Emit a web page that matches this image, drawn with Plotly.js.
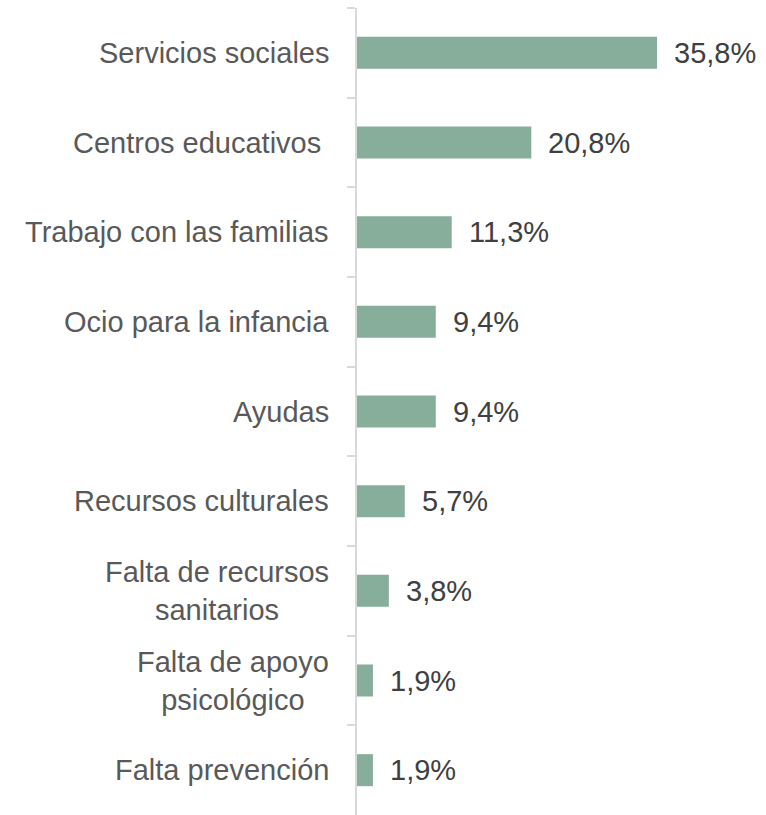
<!DOCTYPE html>
<html>
<head>
<meta charset="utf-8">
<script src="https://cdn.plot.ly/plotly-3.0.1.min.js"></script>
<style>html,body{margin:0;padding:0;background:#fff;}#chart{width:766px;height:815px;}</style>
</head>
<body>
<div id="chart"></div>
<script>
const categories = [
  "Servicios sociales",
  "Centros educativos\u00a0",
  "Trabajo con las familias",
  "Ocio para la infancia",
  "Ayudas",
  "Recursos culturales",
  "Falta de recursos<br>sanitarios",
  "Falta de apoyo<br>psicológico",
  "Falta prevención"
];
const values = [35.8, 20.8, 11.3, 9.4, 9.4, 5.7, 3.8, 1.9, 1.9];
const valueLabels = ["35,8%", "20,8%", "11,3%", "9,4%", "9,4%", "5,7%", "3,8%", "1,9%", "1,9%"];

const FONT = "Arial, 'Liberation Sans', sans-serif";

const trace = {
  type: "bar",
  orientation: "h",
  x: values,
  y: categories,
  marker: { color: "#86ae9b", line: { width: 0 } },
  hoverinfo: "none"
};

const annotations = [];
categories.forEach((c, i) => {
  annotations.push({
    xref: "paper", x: 0, yref: "y", y: c,
    xanchor: "right", yanchor: "middle", xshift: -26,
    text: c, align: "center", showarrow: false,
    font: { family: FONT, size: 29, color: "#595959" }
  });
  annotations.push({
    xref: "x", x: values[i], yref: "y", y: c,
    xanchor: "left", yanchor: "middle", xshift: 15,
    text: valueLabels[i], showarrow: false,
    font: { family: FONT, size: 29, color: "#404040" }
  });
});

const layout = {
  width: 766, height: 815,
  margin: { l: 357, r: 0, t: 8, b: 0 },
  paper_bgcolor: "#fff", plot_bgcolor: "#fff",
  showlegend: false,
  bargap: 0.643,
  xaxis: { range: [0, 48.8], visible: false, fixedrange: true },
  yaxis: {
    type: "category", autorange: "reversed",
    showticklabels: false, showgrid: false, zeroline: false,
    showline: true, linecolor: "#d9d9d9", linewidth: 2,
    ticks: "outside", tickson: "boundaries", ticklen: 8,
    tickcolor: "#d9d9d9", tickwidth: 2, fixedrange: true
  },
  annotations: annotations,
  font: { family: FONT }
};

Plotly.newPlot("chart", [trace], layout, { displayModeBar: false, staticPlot: true });
</script>
</body>
</html>
